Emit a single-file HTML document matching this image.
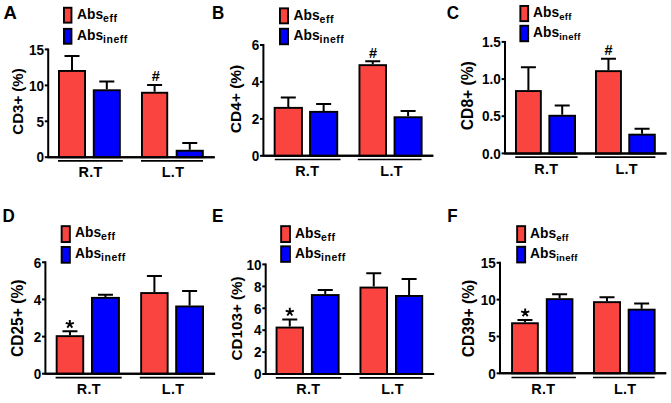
<!DOCTYPE html>
<html><head><meta charset="utf-8"><title>Figure</title>
<style>
html,body{margin:0;padding:0;background:#fff;}
body{width:671px;height:403px;overflow:hidden;}
svg{display:block;}
text{font-family:"Liberation Sans",sans-serif;font-weight:bold;fill:#000;}
</style></head>
<body>
<svg width="671" height="403" viewBox="0 0 671 403">
<rect width="671" height="403" fill="#fff"/>
<text transform="translate(3.4 19.2) scale(1 1)" font-size="18.5">A</text>
<rect x="63.95" y="7.75" width="7.5" height="14.9" fill="#fa4440" stroke="#000" stroke-width="1.9"/>
<text x="77" y="19.17" font-size="13.8">Abs<tspan font-size="10.5" dy="3" letter-spacing="0.5">eff</tspan></text>
<rect x="63.95" y="28.85" width="7.5" height="14.9" fill="#0000ff" stroke="#000" stroke-width="1.9"/>
<text x="77" y="40.27" font-size="13.8">Abs<tspan font-size="10.5" dy="3" letter-spacing="0.5">ineff</tspan></text>
<path d="M48.2 48.4V157.2H214.7" fill="none" stroke="#000" stroke-width="2.0" stroke-linejoin="miter"/>
<line x1="44.8" y1="49.4" x2="48.2" y2="49.4" stroke="#000" stroke-width="2.0"/>
<text transform="translate(44 54.65) scale(1 1.08)" font-size="13.5" text-anchor="end">15</text>
<line x1="44.8" y1="85.4" x2="48.2" y2="85.4" stroke="#000" stroke-width="2.0"/>
<text transform="translate(44 90.65) scale(1 1.08)" font-size="13.5" text-anchor="end">10</text>
<line x1="44.8" y1="121.3" x2="48.2" y2="121.3" stroke="#000" stroke-width="2.0"/>
<text transform="translate(44 126.55) scale(1 1.08)" font-size="13.5" text-anchor="end">5</text>
<line x1="44.8" y1="157.2" x2="48.2" y2="157.2" stroke="#000" stroke-width="2.0"/>
<text transform="translate(44 162.45) scale(1 1.08)" font-size="13.5" text-anchor="end">0</text>
<text transform="translate(22.9 101.5) rotate(-90)" font-size="15.0" text-anchor="middle">CD3+ (%)</text>
<path d="M72 70V56M64.5 56H79.5" stroke="#000" stroke-width="2.0" fill="none"/>
<rect x="58.95" y="70.95" width="26.1" height="86.25" fill="#fa4440" stroke="#000" stroke-width="1.9"/>
<path d="M106.8 89.3V81.5M99.3 81.5H114.3" stroke="#000" stroke-width="2.0" fill="none"/>
<rect x="93.75" y="90.25" width="26.1" height="66.95" fill="#0000ff" stroke="#000" stroke-width="1.9"/>
<path d="M154.6 91.8V84.9M147.1 84.9H162.1" stroke="#000" stroke-width="2.0" fill="none"/>
<rect x="141.95" y="92.75" width="25.3" height="64.45" fill="#fa4440" stroke="#000" stroke-width="1.9"/>
<path d="M189.75 149.8V143M182.25 143H197.25" stroke="#000" stroke-width="2.0" fill="none"/>
<rect x="176.65" y="150.75" width="26.2" height="6.45" fill="#0000ff" stroke="#000" stroke-width="1.9"/>
<line x1="48.2" y1="157.2" x2="214.7" y2="157.2" stroke="#000" stroke-width="2.0"/>
<text x="155.8" y="80.6" font-size="14.5" text-anchor="middle">#</text>
<line x1="58" y1="160.8" x2="122.8" y2="160.8" stroke="#000" stroke-width="1.7"/>
<line x1="141" y1="160.8" x2="203" y2="160.8" stroke="#000" stroke-width="1.7"/>
<text x="90.6" y="176.9" font-size="14.4" letter-spacing="0.3" text-anchor="middle">R.T</text>
<text x="173" y="176.9" font-size="14.4" letter-spacing="0.3" text-anchor="middle">L.T</text>
<text transform="translate(212 19) scale(0.92 1)" font-size="18.5">B</text>
<rect x="279.95" y="8.35" width="8.1" height="15" fill="#fa4440" stroke="#000" stroke-width="1.9"/>
<text x="293.5" y="19.82" font-size="13.8">Abs<tspan font-size="10.5" dy="3" letter-spacing="0.5">eff</tspan></text>
<rect x="279.95" y="28.75" width="8.1" height="15.5" fill="#0000ff" stroke="#000" stroke-width="1.9"/>
<text x="293.5" y="40.47" font-size="13.8">Abs<tspan font-size="10.5" dy="3" letter-spacing="0.5">ineff</tspan></text>
<path d="M263.4 44V155.8H433.3" fill="none" stroke="#000" stroke-width="2.0" stroke-linejoin="miter"/>
<line x1="260" y1="45" x2="263.4" y2="45" stroke="#000" stroke-width="2.0"/>
<text transform="translate(259.2 50.25) scale(1 1.08)" font-size="13.5" text-anchor="end">6</text>
<line x1="260" y1="81.9" x2="263.4" y2="81.9" stroke="#000" stroke-width="2.0"/>
<text transform="translate(259.2 87.15) scale(1 1.08)" font-size="13.5" text-anchor="end">4</text>
<line x1="260" y1="118.9" x2="263.4" y2="118.9" stroke="#000" stroke-width="2.0"/>
<text transform="translate(259.2 124.15) scale(1 1.08)" font-size="13.5" text-anchor="end">2</text>
<line x1="260" y1="155.8" x2="263.4" y2="155.8" stroke="#000" stroke-width="2.0"/>
<text transform="translate(259.2 161.05) scale(1 1.08)" font-size="13.5" text-anchor="end">0</text>
<text transform="translate(240.5 99) rotate(-90)" font-size="15.5" text-anchor="middle">CD4+ (%)</text>
<path d="M288.3 106.9V97.5M280.8 97.5H295.8" stroke="#000" stroke-width="2.0" fill="none"/>
<rect x="274.65" y="107.85" width="27.3" height="47.95" fill="#fa4440" stroke="#000" stroke-width="1.9"/>
<path d="M323.65 110.9V104M316.15 104H331.15" stroke="#000" stroke-width="2.0" fill="none"/>
<rect x="310.05" y="111.85" width="27.2" height="43.95" fill="#0000ff" stroke="#000" stroke-width="1.9"/>
<path d="M372.75 64.2V61.3M365.25 61.3H380.25" stroke="#000" stroke-width="2.0" fill="none"/>
<rect x="359.45" y="65.15" width="26.6" height="90.65" fill="#fa4440" stroke="#000" stroke-width="1.9"/>
<path d="M408.1 116.3V111M400.6 111H415.6" stroke="#000" stroke-width="2.0" fill="none"/>
<rect x="394.55" y="117.25" width="27.1" height="38.55" fill="#0000ff" stroke="#000" stroke-width="1.9"/>
<line x1="263.4" y1="155.8" x2="433.3" y2="155.8" stroke="#000" stroke-width="2.0"/>
<text x="373" y="57.8" font-size="14.5" text-anchor="middle">#</text>
<line x1="274.8" y1="159.5" x2="340.5" y2="159.5" stroke="#000" stroke-width="1.7"/>
<line x1="357.8" y1="159.5" x2="421.6" y2="159.5" stroke="#000" stroke-width="1.7"/>
<text x="307.2" y="175.7" font-size="14.4" letter-spacing="0.3" text-anchor="middle">R.T</text>
<text x="391.6" y="175.7" font-size="14.4" letter-spacing="0.3" text-anchor="middle">L.T</text>
<text transform="translate(446.8 19.2) scale(0.92 1)" font-size="18.5">C</text>
<rect x="520.35" y="5.95" width="7.8" height="15.2" fill="#fa4440" stroke="#000" stroke-width="1.9"/>
<text x="533.1" y="17.32" font-size="13.8">Abs<tspan font-size="9.5" dy="3" letter-spacing="0.3">eff</tspan></text>
<rect x="520.35" y="25.75" width="7.8" height="15.5" fill="#0000ff" stroke="#000" stroke-width="1.9"/>
<text x="533.1" y="37.27" font-size="13.8">Abs<tspan font-size="9.5" dy="3" letter-spacing="0.3">ineff</tspan></text>
<path d="M505 40.9V153.4H666.5" fill="none" stroke="#000" stroke-width="2.0" stroke-linejoin="miter"/>
<line x1="501.6" y1="41.9" x2="505" y2="41.9" stroke="#000" stroke-width="2.0"/>
<text transform="translate(500.8 47.15) scale(1 1.08)" font-size="13.5" text-anchor="end">1.5</text>
<line x1="501.6" y1="79.1" x2="505" y2="79.1" stroke="#000" stroke-width="2.0"/>
<text transform="translate(500.8 84.35) scale(1 1.08)" font-size="13.5" text-anchor="end">1.0</text>
<line x1="501.6" y1="116.2" x2="505" y2="116.2" stroke="#000" stroke-width="2.0"/>
<text transform="translate(500.8 121.45) scale(1 1.08)" font-size="13.5" text-anchor="end">0.5</text>
<line x1="501.6" y1="153.4" x2="505" y2="153.4" stroke="#000" stroke-width="2.0"/>
<text transform="translate(500.8 158.65) scale(1 1.08)" font-size="13.5" text-anchor="end">0.0</text>
<text transform="translate(472.9 95.7) rotate(-90)" font-size="15.6" text-anchor="middle">CD8+ (%)</text>
<path d="M528.4 90.1V67.3M520.9 67.3H535.9" stroke="#000" stroke-width="2.0" fill="none"/>
<rect x="515.95" y="91.05" width="24.9" height="62.35" fill="#fa4440" stroke="#000" stroke-width="1.9"/>
<path d="M562.2 114.8V105.4M554.7 105.4H569.7" stroke="#000" stroke-width="2.0" fill="none"/>
<rect x="549.35" y="115.75" width="25.7" height="37.65" fill="#0000ff" stroke="#000" stroke-width="1.9"/>
<path d="M608.45 70.2V58.8M600.95 58.8H615.95" stroke="#000" stroke-width="2.0" fill="none"/>
<rect x="595.95" y="71.15" width="25" height="82.25" fill="#fa4440" stroke="#000" stroke-width="1.9"/>
<path d="M642.05 133.7V128.8M634.55 128.8H649.55" stroke="#000" stroke-width="2.0" fill="none"/>
<rect x="629.25" y="134.65" width="25.6" height="18.75" fill="#0000ff" stroke="#000" stroke-width="1.9"/>
<line x1="505" y1="153.4" x2="666.5" y2="153.4" stroke="#000" stroke-width="2.0"/>
<text x="608.5" y="55.1" font-size="14.5" text-anchor="middle">#</text>
<line x1="515.2" y1="157.1" x2="577.6" y2="157.1" stroke="#000" stroke-width="1.7"/>
<line x1="595" y1="157.1" x2="655.4" y2="157.1" stroke="#000" stroke-width="1.7"/>
<text x="546.3" y="173.5" font-size="14.4" letter-spacing="0.3" text-anchor="middle">R.T</text>
<text x="626.7" y="173.5" font-size="14.4" letter-spacing="0.3" text-anchor="middle">L.T</text>
<text transform="translate(2.6 222.2) scale(0.92 1)" font-size="18.5">D</text>
<rect x="61.65" y="226.15" width="8.2" height="15.9" fill="#fa4440" stroke="#000" stroke-width="1.9"/>
<text x="75" y="237.47" font-size="13.8">Abs<tspan font-size="10.5" dy="3" letter-spacing="0.5">eff</tspan></text>
<rect x="61.65" y="246.95" width="8.2" height="15.8" fill="#0000ff" stroke="#000" stroke-width="1.9"/>
<text x="75" y="258.22" font-size="13.8">Abs<tspan font-size="10.5" dy="3" letter-spacing="0.5">ineff</tspan></text>
<path d="M45.4 261.3V373.7H215.1" fill="none" stroke="#000" stroke-width="2.0" stroke-linejoin="miter"/>
<line x1="42" y1="262.3" x2="45.4" y2="262.3" stroke="#000" stroke-width="2.0"/>
<text transform="translate(41.2 267.55) scale(1 1.08)" font-size="13.5" text-anchor="end">6</text>
<line x1="42" y1="299.4" x2="45.4" y2="299.4" stroke="#000" stroke-width="2.0"/>
<text transform="translate(41.2 304.65) scale(1 1.08)" font-size="13.5" text-anchor="end">4</text>
<line x1="42" y1="336.6" x2="45.4" y2="336.6" stroke="#000" stroke-width="2.0"/>
<text transform="translate(41.2 341.85) scale(1 1.08)" font-size="13.5" text-anchor="end">2</text>
<line x1="42" y1="373.7" x2="45.4" y2="373.7" stroke="#000" stroke-width="2.0"/>
<text transform="translate(41.2 378.95) scale(1 1.08)" font-size="13.5" text-anchor="end">0</text>
<text transform="translate(22.9 318.3) rotate(-90)" font-size="15.6" text-anchor="middle">CD25+ (%)</text>
<path d="M69.95 335.2V331.2M62.45 331.2H77.45" stroke="#000" stroke-width="2.0" fill="none"/>
<rect x="56.65" y="336.15" width="26.6" height="37.55" fill="#fa4440" stroke="#000" stroke-width="1.9"/>
<path d="M105.45 296.9V294.7M97.95 294.7H112.95" stroke="#000" stroke-width="2.0" fill="none"/>
<rect x="91.95" y="297.85" width="27" height="75.85" fill="#0000ff" stroke="#000" stroke-width="1.9"/>
<path d="M154.4 292.1V276.1M146.9 276.1H161.9" stroke="#000" stroke-width="2.0" fill="none"/>
<rect x="141.15" y="293.05" width="26.5" height="80.65" fill="#fa4440" stroke="#000" stroke-width="1.9"/>
<path d="M189.6 305.5V290.9M182.1 290.9H197.1" stroke="#000" stroke-width="2.0" fill="none"/>
<rect x="176.15" y="306.45" width="26.9" height="67.25" fill="#0000ff" stroke="#000" stroke-width="1.9"/>
<line x1="45.4" y1="373.7" x2="215.1" y2="373.7" stroke="#000" stroke-width="2.0"/>
<path d="M69.8 324.2L69.8 319.9M69.8 324.2L73.89 322.87M69.8 324.2L72.33 327.68M69.8 324.2L67.27 327.68M69.8 324.2L65.71 322.87" stroke="#000" stroke-width="1.9" fill="none"/>
<line x1="55.6" y1="377.7" x2="121.7" y2="377.7" stroke="#000" stroke-width="1.7"/>
<line x1="139.8" y1="377.7" x2="203" y2="377.7" stroke="#000" stroke-width="1.7"/>
<text x="88.9" y="394.4" font-size="14.4" letter-spacing="0.3" text-anchor="middle">R.T</text>
<text x="173.1" y="394.4" font-size="14.4" letter-spacing="0.3" text-anchor="middle">L.T</text>
<text transform="translate(212 222.2) scale(0.92 1)" font-size="18.5">E</text>
<rect x="281.15" y="226.15" width="8.8" height="15.9" fill="#fa4440" stroke="#000" stroke-width="1.9"/>
<text x="295" y="237.57" font-size="13.8">Abs<tspan font-size="10.5" dy="3" letter-spacing="0.5">eff</tspan></text>
<rect x="281.15" y="246.35" width="8.8" height="15.5" fill="#0000ff" stroke="#000" stroke-width="1.9"/>
<text x="295" y="257.57" font-size="13.8">Abs<tspan font-size="10.5" dy="3" letter-spacing="0.5">ineff</tspan></text>
<path d="M265.7 263.4V374H434.1" fill="none" stroke="#000" stroke-width="2.0" stroke-linejoin="miter"/>
<line x1="262.3" y1="264.4" x2="265.7" y2="264.4" stroke="#000" stroke-width="2.0"/>
<text transform="translate(261.5 269.65) scale(1 1.08)" font-size="13.5" text-anchor="end">10</text>
<line x1="262.3" y1="286.4" x2="265.7" y2="286.4" stroke="#000" stroke-width="2.0"/>
<text transform="translate(261.5 291.65) scale(1 1.08)" font-size="13.5" text-anchor="end">8</text>
<line x1="262.3" y1="308.3" x2="265.7" y2="308.3" stroke="#000" stroke-width="2.0"/>
<text transform="translate(261.5 313.55) scale(1 1.08)" font-size="13.5" text-anchor="end">6</text>
<line x1="262.3" y1="330.2" x2="265.7" y2="330.2" stroke="#000" stroke-width="2.0"/>
<text transform="translate(261.5 335.45) scale(1 1.08)" font-size="13.5" text-anchor="end">4</text>
<line x1="262.3" y1="352.1" x2="265.7" y2="352.1" stroke="#000" stroke-width="2.0"/>
<text transform="translate(261.5 357.35) scale(1 1.08)" font-size="13.5" text-anchor="end">2</text>
<line x1="262.3" y1="374" x2="265.7" y2="374" stroke="#000" stroke-width="2.0"/>
<text transform="translate(261.5 379.25) scale(1 1.08)" font-size="13.5" text-anchor="end">0</text>
<text transform="translate(242.2 318.4) rotate(-90)" font-size="15.2" text-anchor="middle">CD103+ (%)</text>
<path d="M289.75 326.6V319.4M282.25 319.4H297.25" stroke="#000" stroke-width="2.0" fill="none"/>
<rect x="276.55" y="327.55" width="26.4" height="46.45" fill="#fa4440" stroke="#000" stroke-width="1.9"/>
<path d="M325.25 294.1V290.1M317.75 290.1H332.75" stroke="#000" stroke-width="2.0" fill="none"/>
<rect x="311.85" y="295.05" width="26.8" height="78.95" fill="#0000ff" stroke="#000" stroke-width="1.9"/>
<path d="M373.75 286.6V273.2M366.25 273.2H381.25" stroke="#000" stroke-width="2.0" fill="none"/>
<rect x="360.45" y="287.55" width="26.6" height="86.45" fill="#fa4440" stroke="#000" stroke-width="1.9"/>
<path d="M409.1 295V279M401.6 279H416.6" stroke="#000" stroke-width="2.0" fill="none"/>
<rect x="395.95" y="295.95" width="26.3" height="78.05" fill="#0000ff" stroke="#000" stroke-width="1.9"/>
<line x1="265.7" y1="374" x2="434.1" y2="374" stroke="#000" stroke-width="2.0"/>
<path d="M289.8 312L289.8 307.7M289.8 312L293.89 310.67M289.8 312L292.33 315.48M289.8 312L287.27 315.48M289.8 312L285.71 310.67" stroke="#000" stroke-width="1.9" fill="none"/>
<line x1="275.8" y1="377.8" x2="341.3" y2="377.8" stroke="#000" stroke-width="1.7"/>
<line x1="359.5" y1="377.8" x2="422.7" y2="377.8" stroke="#000" stroke-width="1.7"/>
<text x="308.3" y="393.5" font-size="14.4" letter-spacing="0.3" text-anchor="middle">R.T</text>
<text x="392.5" y="393.5" font-size="14.4" letter-spacing="0.3" text-anchor="middle">L.T</text>
<text transform="translate(447.2 222.2) scale(0.92 1)" font-size="18.5">F</text>
<rect x="517.15" y="226.15" width="8" height="15.9" fill="#fa4440" stroke="#000" stroke-width="1.9"/>
<text x="530.1" y="237.62" font-size="13.8">Abs<tspan font-size="9.5" dy="3" letter-spacing="0.3">eff</tspan></text>
<rect x="517.15" y="246.75" width="8" height="15.7" fill="#0000ff" stroke="#000" stroke-width="1.9"/>
<text x="530.1" y="258.12" font-size="13.8">Abs<tspan font-size="9.5" dy="3" letter-spacing="0.3">ineff</tspan></text>
<path d="M500 261.8V373.3H666.2" fill="none" stroke="#000" stroke-width="2.0" stroke-linejoin="miter"/>
<line x1="496.6" y1="262.8" x2="500" y2="262.8" stroke="#000" stroke-width="2.0"/>
<text transform="translate(495.8 268.05) scale(1 1.08)" font-size="13.5" text-anchor="end">15</text>
<line x1="496.6" y1="299.6" x2="500" y2="299.6" stroke="#000" stroke-width="2.0"/>
<text transform="translate(495.8 304.85) scale(1 1.08)" font-size="13.5" text-anchor="end">10</text>
<line x1="496.6" y1="336.5" x2="500" y2="336.5" stroke="#000" stroke-width="2.0"/>
<text transform="translate(495.8 341.75) scale(1 1.08)" font-size="13.5" text-anchor="end">5</text>
<line x1="496.6" y1="373.3" x2="500" y2="373.3" stroke="#000" stroke-width="2.0"/>
<text transform="translate(495.8 378.55) scale(1 1.08)" font-size="13.5" text-anchor="end">0</text>
<text transform="translate(473.6 318.5) rotate(-90)" font-size="15.6" text-anchor="middle">CD39+ (%)</text>
<path d="M524.95 322.3V320M517.45 320H532.45" stroke="#000" stroke-width="2.0" fill="none"/>
<rect x="512.05" y="323.25" width="25.8" height="50.05" fill="#fa4440" stroke="#000" stroke-width="1.9"/>
<path d="M559.6 298.2V294.3M552.1 294.3H567.1" stroke="#000" stroke-width="2.0" fill="none"/>
<rect x="546.75" y="299.15" width="25.7" height="74.15" fill="#0000ff" stroke="#000" stroke-width="1.9"/>
<path d="M607 301.2V297.3M599.5 297.3H614.5" stroke="#000" stroke-width="2.0" fill="none"/>
<rect x="593.95" y="302.15" width="26.1" height="71.15" fill="#fa4440" stroke="#000" stroke-width="1.9"/>
<path d="M641.65 308.7V303.6M634.15 303.6H649.15" stroke="#000" stroke-width="2.0" fill="none"/>
<rect x="628.65" y="309.65" width="26" height="63.65" fill="#0000ff" stroke="#000" stroke-width="1.9"/>
<line x1="500" y1="373.3" x2="666.2" y2="373.3" stroke="#000" stroke-width="2.0"/>
<path d="M525.2 312.7L525.2 308.4M525.2 312.7L529.29 311.37M525.2 312.7L527.73 316.18M525.2 312.7L522.67 316.18M525.2 312.7L521.11 311.37" stroke="#000" stroke-width="1.9" fill="none"/>
<line x1="511.5" y1="377.5" x2="575.9" y2="377.5" stroke="#000" stroke-width="1.7"/>
<line x1="593" y1="377.5" x2="654.7" y2="377.5" stroke="#000" stroke-width="1.7"/>
<text x="543.4" y="394.3" font-size="14.4" letter-spacing="0.3" text-anchor="middle">R.T</text>
<text x="625.2" y="394.3" font-size="14.4" letter-spacing="0.3" text-anchor="middle">L.T</text>
</svg>
</body></html>
